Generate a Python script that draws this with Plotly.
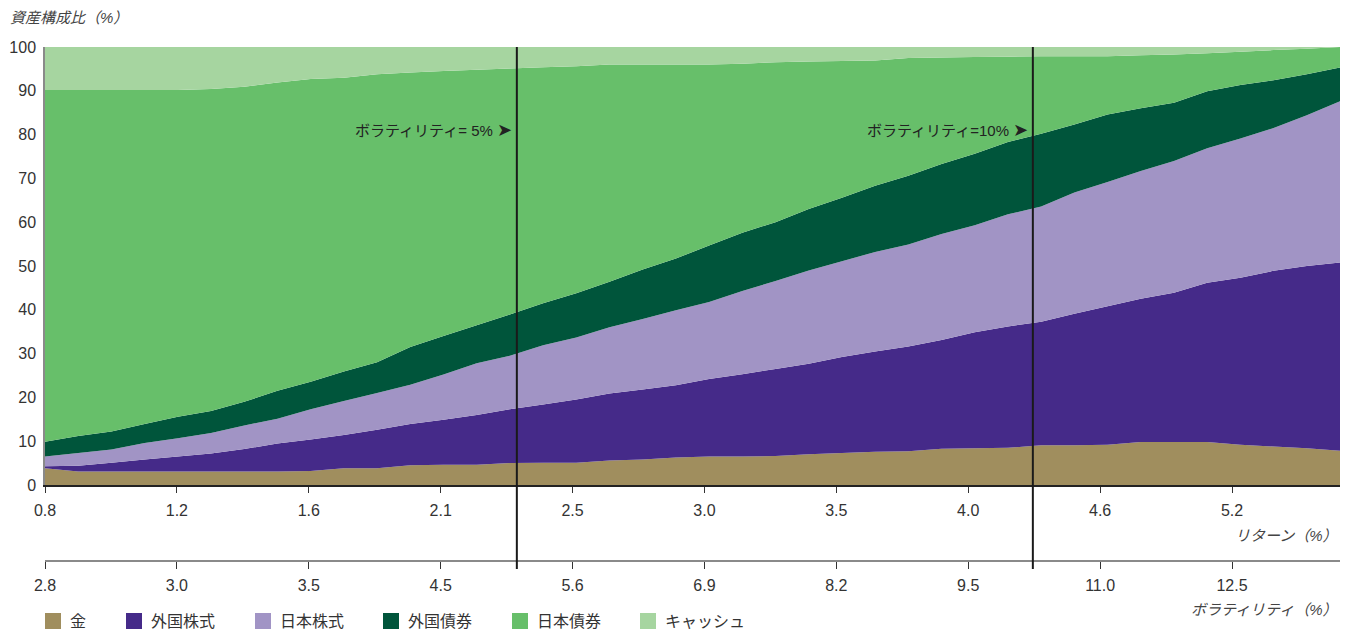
import plotly.graph_objects as go

# ---------------- data ----------------
SERIES_NAMES = ["金", "外国株式", "日本株式", "外国債券", "日本債券", "キャッシュ"]
SERIES_COLORS = ["#A08E5E", "#452A89", "#A194C5", "#00553B", "#67BF6A", "#A6D5A0"]

gold = [3.8, 3.1, 3.1, 3.1, 3.1, 3.1, 3.1, 3.1, 3.2, 3.8, 3.8, 4.5, 4.6, 4.6, 5.0, 5.1, 5.1, 5.6, 5.8, 6.3,
        6.5, 6.5, 6.6, 7.0, 7.3, 7.6, 7.7, 8.3, 8.4, 8.5, 9.1, 9.1, 9.2, 9.8, 9.8, 9.8, 9.2, 8.8, 8.4, 7.8]
foreign_equity = [0.5, 1.3, 2.0, 2.7, 3.4, 4.1, 5.1, 6.4, 7.2, 7.6, 8.8, 9.4, 10.3, 11.4, 12.3, 13.3, 14.4, 15.3, 16.0, 16.5,
                  17.7, 18.8, 19.9, 20.7, 21.9, 22.9, 23.9, 24.8, 26.5, 27.7, 28.2, 30.0, 31.6, 32.7, 34.1, 36.4, 38.1, 40.1, 41.6, 43.0]
japan_equity = [2.2, 2.9, 3.0, 3.8, 4.2, 4.7, 5.4, 5.6, 6.9, 7.8, 8.4, 9.0, 10.3, 11.8, 12.2, 13.5, 14.2, 15.1, 16.1, 17.1,
                17.6, 19.0, 20.1, 21.3, 21.9, 22.7, 23.3, 24.2, 24.4, 25.6, 26.3, 27.7, 28.4, 29.2, 30.1, 30.7, 31.8, 32.6, 34.4, 36.8]
foreign_bond = [3.4, 3.9, 4.1, 4.3, 4.9, 5.0, 5.4, 6.4, 6.3, 6.7, 7.0, 8.6, 8.8, 8.7, 9.4, 9.6, 10.1, 10.4, 11.3, 11.8,
                12.9, 13.3, 13.4, 14.0, 14.5, 15.1, 15.7, 16.0, 16.3, 16.5, 16.6, 15.5, 15.4, 14.3, 13.3, 13.0, 12.2, 10.9, 9.4, 7.7]
japan_bond = [80.3, 79.0, 78.0, 76.3, 74.6, 73.5, 71.9, 70.4, 69.1, 67.1, 65.8, 62.7, 60.5, 58.3, 56.2, 53.9, 51.8, 49.6, 46.8, 44.3,
              41.3, 38.6, 36.5, 33.7, 31.2, 28.6, 26.9, 24.3, 22.1, 19.5, 17.7, 15.6, 13.3, 12.1, 11.0, 8.7, 7.6, 6.9, 5.8, 4.7]
cash = [9.8, 9.8, 9.8, 9.8, 9.8, 9.6, 9.1, 8.1, 7.3, 7.0, 6.2, 5.8, 5.5, 5.2, 4.9, 4.6, 4.4, 4.0, 4.0, 4.0,
        4.0, 3.8, 3.5, 3.3, 3.2, 3.1, 2.5, 2.4, 2.3, 2.2, 2.1, 2.1, 2.1, 1.9, 1.7, 1.4, 1.1, 0.7, 0.4, 0.0]

RETURN_TICK_LABELS = ["0.8", "1.2", "1.6", "2.1", "2.5", "3.0", "3.5", "4.0", "4.6", "5.2"]
VOL_TICK_LABELS = ["2.8", "3.0", "3.5", "4.5", "5.6", "6.9", "8.2", "9.5", "11.0", "12.5"]
Y_TICKS = list(range(0, 101, 10))

N = len(gold)
x = list(range(N))
TICK_STEP = 3.972           # data points per labelled tick
tick_pos = [i * TICK_STEP for i in range(len(RETURN_TICK_LABELS))]
VOL5_POS = 14.21
VOL10_POS = 29.75

series = [gold, foreign_equity, japan_equity, foreign_bond, japan_bond, cash]

# ---------------- figure ----------------
W, H = 1356, 630
ML, MR, MT, MB = 45, 16, 47, 0
PB = H - MB  # paper bottom pixel
paper_h = H - MT - MB
plot_w = W - ML - MR


def py(pix):  # pixel y -> paper fraction
    return (PB - pix) / paper_h


def px(pix):  # pixel x -> paper fraction
    return (pix - ML) / plot_w


FONT = "Liberation Sans, Noto Sans CJK JP, sans-serif"
TXT = "#333333"

fig = go.Figure()
for name, vals, col in zip(SERIES_NAMES, series, SERIES_COLORS):
    fig.add_trace(go.Scatter(
        x=x, y=vals, name=name, mode="none", stackgroup="one",
        fillcolor=col, line=dict(width=0), showlegend=False,
        hovertemplate=name + ": %{y}%<extra></extra>"))

# invisible trace for the secondary (volatility) axis
fig.add_trace(go.Scatter(x=[0, N - 1], y=[None, None], xaxis="x2", yaxis="y",
                         showlegend=False, hoverinfo="skip", mode="lines"))

fig.update_layout(
    width=W, height=H,
    margin=dict(l=ML, r=MR, t=MT, b=MB, autoexpand=False),
    paper_bgcolor="white", plot_bgcolor="white",
    font=dict(family=FONT, size=16, color=TXT),
    xaxis=dict(range=[0, N - 1], tickvals=tick_pos, ticktext=RETURN_TICK_LABELS,
               showgrid=False, zeroline=False, showline=True, linecolor="#222222", linewidth=1.5,
               ticks="outside", ticklen=6, tickcolor="#333333", tickwidth=1.2,
               ticklabelstandoff=4, tickfont=dict(size=16, color=TXT), anchor="y", automargin=False),
    xaxis2=dict(range=[0, N - 1], tickvals=tick_pos, ticktext=VOL_TICK_LABELS,
                overlaying="x", anchor="free", position=py(561), side="bottom",
                showgrid=False, zeroline=False, showline=True, linecolor="#8a8a8a", linewidth=2,
                ticks="outside", ticklen=7, tickcolor="#333333", tickwidth=1.2,
                ticklabelstandoff=3, tickfont=dict(size=16, color=TXT), automargin=False),
    yaxis=dict(range=[0, 100], tickvals=Y_TICKS, domain=[py(485), 1],
               showgrid=False, zeroline=False, showline=True, linecolor="#8a8a8a", linewidth=1.5,
               ticks="", ticklabelstandoff=4, tickfont=dict(size=16, color=TXT), automargin=False),
    showlegend=False,
)

# volatility marker lines
for pos in (VOL5_POS, VOL10_POS):
    fig.add_shape(type="line", xref="x", yref="paper", x0=pos, x1=pos,
                  y0=py(569), y1=1, line=dict(color="#1a1a1a", width=2))

fig.add_annotation(x=VOL5_POS - 0.08, y=81, xref="x", yref="y", xanchor="right", yanchor="middle",
                   text="ボラティリティ= 5% <span style='font-size:18px'>➤</span>", showarrow=False,
                   font=dict(size=15, color="#222222"))
fig.add_annotation(x=VOL10_POS - 0.08, y=81, xref="x", yref="y", xanchor="right", yanchor="middle",
                   text="ボラティリティ=10% <span style='font-size:18px'>➤</span>", showarrow=False,
                   font=dict(size=15, color="#222222"))

# axis titles
fig.add_annotation(x=px(8), y=py(18), xref="paper", yref="paper", xanchor="left", yanchor="middle",
                   text="<i>資産構成比（%）</i>", showarrow=False, font=dict(size=15, color="#444444"))
fig.add_annotation(x=1, y=py(535), xref="paper", yref="paper", xanchor="right", yanchor="middle",
                   text="<i>リターン（%）</i>", showarrow=False, font=dict(size=15, color="#444444"))
fig.add_annotation(x=1, y=py(609), xref="paper", yref="paper", xanchor="right", yanchor="middle",
                   text="<i>ボラティリティ（%）</i>", showarrow=False, font=dict(size=15, color="#444444"))

# manual legend
LEG_X = [45, 126, 255, 383, 512, 640]
for lx, name, col in zip(LEG_X, SERIES_NAMES, SERIES_COLORS):
    fig.add_shape(type="rect", xref="paper", yref="paper",
                  x0=px(lx), x1=px(lx + 16), y0=py(629), y1=py(613),
                  fillcolor=col, line=dict(width=0))
    fig.add_annotation(x=px(lx + 23), y=py(621), xref="paper", yref="paper",
                       xanchor="left", yanchor="middle", text=name, showarrow=False,
                       font=dict(size=16, color=TXT))

fig.write_html("out.html", config={"displayModeBar": False},
               post_script="document.body.style.margin='0px';")
